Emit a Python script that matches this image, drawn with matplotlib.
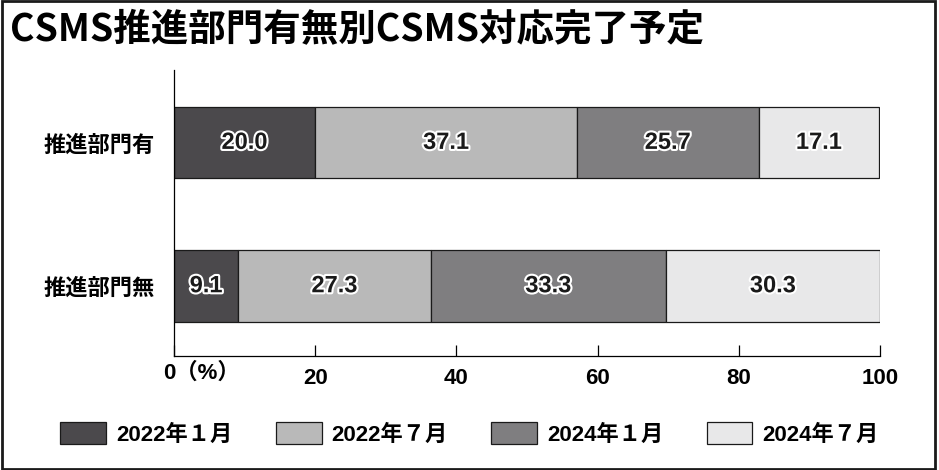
import matplotlib
matplotlib.use('Agg')
import matplotlib.pyplot as plt
import matplotlib.patheffects as pe
from matplotlib.patches import Patch, Rectangle

plt.rcParams['font.family'] = ['Liberation Sans', 'Noto Sans CJK JP', 'DejaVu Sans']
plt.rcParams['font.weight'] = 'bold'

title = 'CSMS推進部門有無別CSMS対応完了予定'
categories = ['推進部門有', '推進部門無']
series_names = ['2022年１月', '2022年７月', '2024年１月', '2024年７月']
values = [
    [20.0, 9.1],   # 2022年1月
    [37.1, 27.3],  # 2022年7月
    [25.7, 33.3],  # 2024年1月
    [17.1, 30.3],  # 2024年7月
]
colors = ['#4b494c', '#b9b9b9', '#7f7e80', '#e8e8e9']
xticks = [0, 20, 40, 60, 80, 100]

fig = plt.figure(figsize=(9.39, 4.70), dpi=100)
ax = fig.add_axes([174/939, 1-356/470, (880-174)/939, (356-70)/470])

ypos = [1, 0]
left = [0, 0]
for name, vals, col in zip(series_names, values, colors):
    ax.barh(ypos, vals, left=left, height=0.5, color=col, edgecolor='#1a1a1a',
            linewidth=0.9, label=name)
    for y, l, v in zip(ypos, left, vals):
        ax.text(l + v/2, y, f'{v:.1f}', ha='center', va='center', fontsize=17,
                color='#1a1a1a', fontweight='bold',
                path_effects=[pe.withStroke(linewidth=3, foreground='white')])
    left = [a + b for a, b in zip(left, vals)]

ax.set_xlim(0, 100)
ax.set_ylim(-0.49, 1.505)
ax.set_yticks(ypos)
ax.set_yticklabels(categories, fontsize=16, fontweight='bold',
                   family=['Noto Sans CJK JP'])
ax.tick_params(axis='y', length=0, pad=14)
ax.set_xticks(xticks)
ax.set_xticklabels([''] + [str(t) for t in xticks[1:]], fontsize=16)
ax.tick_params(axis='x', direction='in', length=8, width=0.9, pad=9)
ax.text(-1.6, -0.61, '0（%）', ha='left', va='center', fontsize=16,
        fontweight='bold', transform=ax.transData, clip_on=False)
for s in ['top', 'right']:
    ax.spines[s].set_visible(False)
for s in ['left', 'bottom']:
    ax.spines[s].set_linewidth(0.9)

handles = [Patch(facecolor=c, edgecolor='#1a1a1a', linewidth=0.9) for c in colors]
fig.legend(handles, series_names, loc='center', bbox_to_anchor=(0.5, 1-434/470),
           ncol=4, frameon=False, fontsize=16, handlelength=2.06, handleheight=1.1,
           handletextpad=0.45, columnspacing=1.95)

fig.text(10/939, 1-30/470, title, ha='left', va='center', fontsize=27,
         fontweight='bold', family=['Noto Sans CJK JP'])

fig.patches.append(Rectangle((0.002, 0.003), 0.994, 0.994, transform=fig.transFigure,
                             fill=False, edgecolor='#1a1a1a', linewidth=2))

fig.savefig('out.png', dpi=100)
